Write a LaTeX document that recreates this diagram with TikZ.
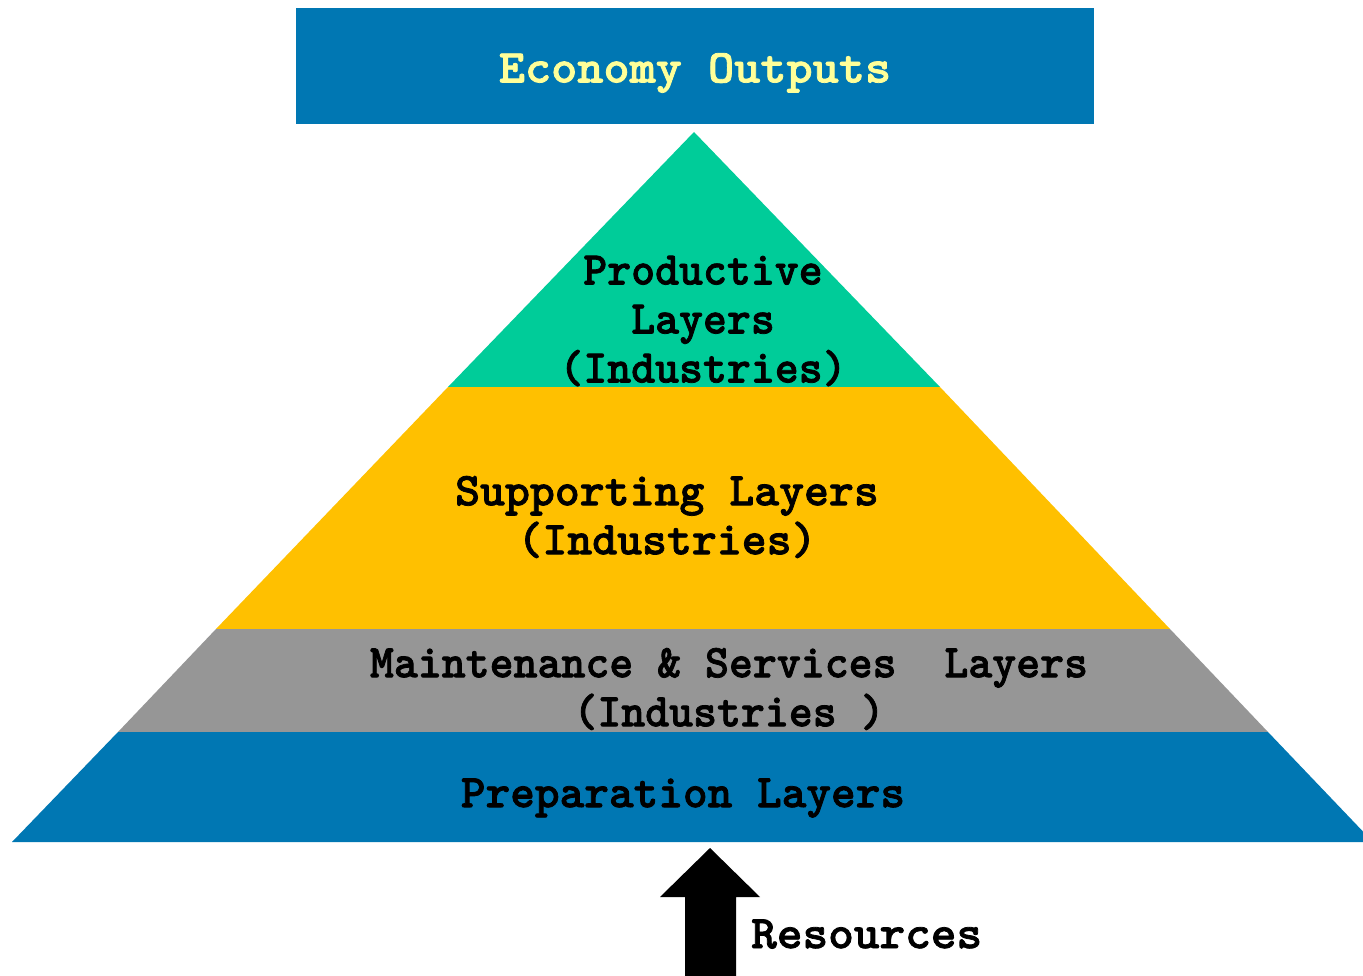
\documentclass[tikz,border=0pt]{standalone}
\usepackage{fontspec}
\newfontfamily\twfont{lmmonolt10-bold.otf}[FakeBold=1.6]
\definecolor{cblue}{RGB}{0,119,179}
\definecolor{cgreen}{RGB}{0,204,153}
\definecolor{cyellow}{RGB}{255,192,0}
\definecolor{cgrey}{RGB}{150,150,150}
\definecolor{ctext}{RGB}{255,255,153}
\tikzset{
  lbl/.style={font=\fontsize{47}{49}\selectfont\twfont, align=center, inner sep=0pt, text=black},
}
\begin{document}
\begin{tikzpicture}[x=1pt,y=-1pt]
\useasboundingbox (0,0) rectangle (1363,976);
\clip (0,0) rectangle (1363,976);
% top box
\fill[cblue] (296,8) rectangle (1094,124);
\node[lbl, text=ctext, xscale=1.06] (out) at (695,73) {Economy Outputs};
% layers
\fill[cgreen] (694,132) -- (940,387) -- (448,387) -- cycle;
\fill[cyellow] (448,387) -- (940,387) -- (1170,629) -- (216,629) -- cycle;
\fill[cgrey] (216,629) -- (1170,629) -- (1268,732) -- (118,732) -- cycle;
\fill[cblue] (118,732) -- (1268,732) -- (1373,842) -- (12,842) -- cycle;
% labels
\node[lbl, xscale=0.97] (prod) at (703,321) {Productive\\Layers\\(Industries)};
\node[lbl, xscale=1.01] (supp) at (667,517) {Supporting Layers\\(Industries)};
\node[lbl, xscale=0.97] (main) at (729,689) {Maintenance \& Services\ \ Layers\\(Industries )};
\node[lbl, xscale=1.0] (prep) at (683,798) {Preparation Layers};
% arrow
\coordinate (tip) at (710,848);
\fill[black] (tip) -- (760,897) -- (736,897) -- (736,976) -- (685,976) -- (685,897) -- (660,897) -- cycle;
\node[lbl, xscale=1.04, anchor=west] (res) at (751,934) {Resources};
\end{tikzpicture}
\end{document}
